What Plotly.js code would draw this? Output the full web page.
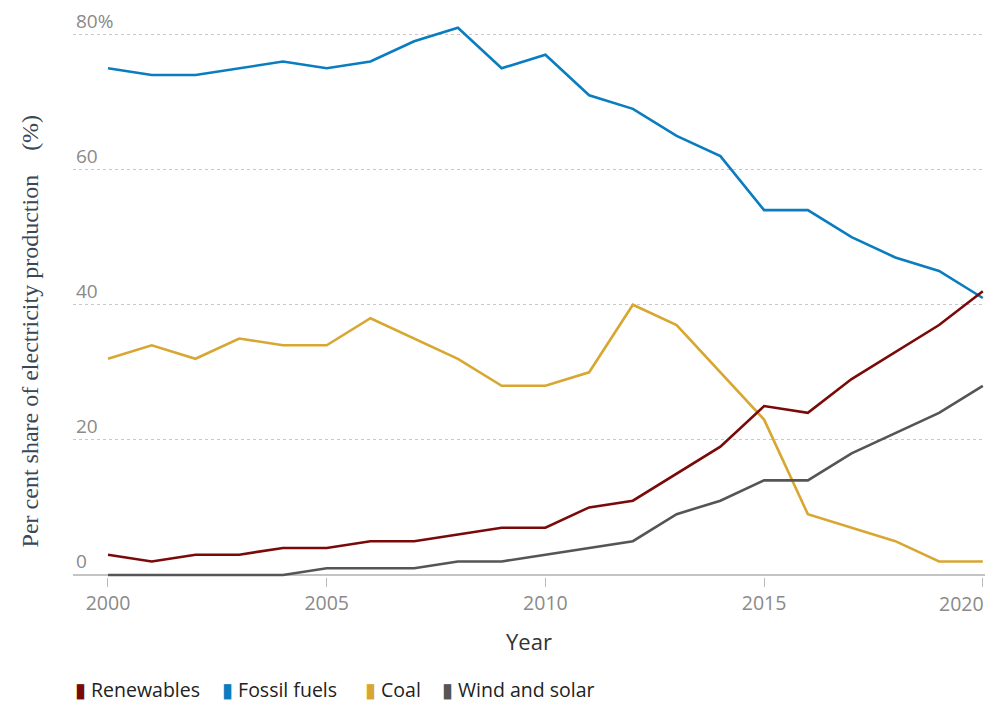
<!DOCTYPE html>
<html>
<head>
<meta charset="utf-8">
<script src="https://cdn.plot.ly/plotly-3.0.1.min.js"></script>
<style>html,body{margin:0;padding:0;background:#fff;}#chart{width:986px;height:702px;}</style>
</head>
<body>
<div id="chart"></div>
<script>
const years = [2000,2001,2002,2003,2004,2005,2006,2007,2008,2009,2010,2011,2012,2013,2014,2015,2016,2017,2018,2019,2020];
const renewables = [3,2,3,3,4,4,5,5,6,7,7,10,11,15,19,25,24,29,33,37,42];
const fossilFuels = [75,74,74,75,76,75,76,79,81,75,77,71,69,65,62,54,54,50,47,45,41];
const coal = [32,34,32,35,34,34,38,35,32,28,28,30,40,37,30,23,9,7,5,2,2];
const windSolar = [0,0,0,0,0,1,1,1,2,2,3,4,5,9,11,14,14,18,21,24,28];

const seriesNames = ["Renewables","Fossil fuels","Coal","Wind and solar"];
const seriesColors = ["#7a0a0a","#0a7dc0","#d8a732","#555555"];
const seriesValues = [renewables, fossilFuels, coal, windSolar];

const yTickVals = [0,20,40,60,80];
const yTickText = ["0","20","40","60","80%"];
const xTickVals = [2000,2005,2010,2015,2020];
const xTickText = ["2000","2005","2010","2015","2020"];

const order = [1,2,3,0];
const traces = order.map(i => ({
  type: "scatter", mode: "lines", x: years, y: seriesValues[i], name: seriesNames[i],
  line: {color: seriesColors[i], width: 2.6}, showlegend: false, hoverinfo: "x+y+name"
}));

const tickFont = {family: "Open Sans, sans-serif", size: 19.5, color: "#8a8a8a"};
const lastIdx = xTickVals.length - 1;

const legendX = [0.0, 0.161, 0.318, 0.402];
const annotations = seriesNames.map((n,i) => ({
  xref: "paper", yref: "paper", x: legendX[i], y: -0.203, xanchor: "left", yanchor: "middle",
  showarrow: false, align: "left",
  text: '<span style="color:' + seriesColors[i] + '">▮</span> ' + n,
  font: {family: "Open Sans, sans-serif", size: 19.5, color: "#222"}
}));
// last x tick label is right-aligned to the plot edge, as in the reference
annotations.push({
  xref: "x", yref: "paper", x: xTickVals[lastIdx], y: -0.02, xanchor: "right", yanchor: "top",
  xshift: 3, showarrow: false, text: xTickText[lastIdx], font: tickFont
});
annotations.push({
  xref: "paper", yref: "paper", x: -0.047, y: 0.442, xanchor: "center", yanchor: "middle",
  showarrow: false, textangle: -90,
  text: "Per cent share of electricity production\u00a0\u00a0\u00a0\u00a0(%)",
  font: {family: "Liberation Serif, DejaVu Serif, serif", size: 24, color: "#3b4756"}
});

const layout = {
  width: 986, height: 702,
  margin: {l: 73, r: 1, t: 21, b: 125},
  paper_bgcolor: "#fff", plot_bgcolor: "#fff",
  xaxis: {
    range: [1999.2, 2020.05], tickvals: xTickVals,
    ticktext: xTickText.map((t,i) => i === lastIdx ? " " : t),
    showgrid: false, zeroline: false, showline: false,
    ticks: "outside", ticklen: 9, tickcolor: "#bbb", tickwidth: 1,
    tickfont: tickFont,
    title: {text: "Year", font: {family: "Open Sans, sans-serif", size: 22, color: "#333"}, standoff: 19}
  },
  yaxis: {
    range: [-0.3, 82], tickvals: yTickVals, ticktext: yTickText,
    ticklabelposition: "inside top", ticklabeloverflow: "allow",
    showgrid: true, gridcolor: "#c8c8c8", griddash: "dot", gridwidth: 1,
    zeroline: true, zerolinecolor: "#c4c4c4", zerolinewidth: 1.2,
    showline: false, ticks: "",
    tickfont: {family: "Open Sans, sans-serif", size: 19, color: "#8a8a8a"}
  },
  annotations: annotations,
  showlegend: false
};

Plotly.newPlot("chart", traces, layout, {displayModeBar: false, staticPlot: true});
</script>
</body>
</html>
